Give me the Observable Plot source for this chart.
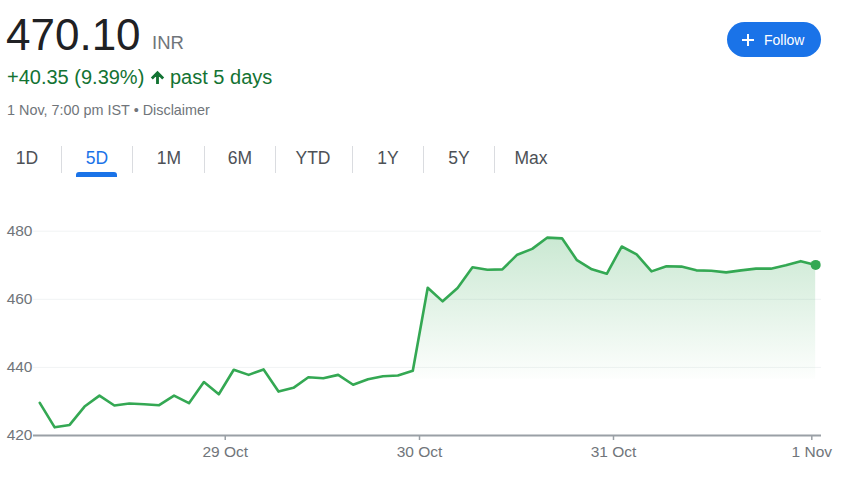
<!DOCTYPE html>
<html>
<head>
<meta charset="utf-8">
<script src="https://cdn.jsdelivr.net/npm/d3@7"></script>
<script src="https://cdn.jsdelivr.net/npm/@observablehq/plot@0.6"></script>
<style>
  html, body { margin: 0; padding: 0; }
  body { width: 860px; height: 481px; overflow: hidden; background: #fff; position: relative;
         font-family: Arial, "Liberation Sans", sans-serif; }
  .abs { position: absolute; white-space: nowrap; line-height: 1; }
  .tab { position: absolute; top: 150px; width: 70px; text-align: center; font-size: 17.5px; color: #4d5156; line-height: 1; }
  .sep { position: absolute; top: 146px; width: 1px; height: 27px; background: #dadce0; }
  #chart { position: absolute; left: 0; top: 195px; }
</style>
</head>
<body>
<div class="abs" style="left:6px;top:12.5px;font-size:44px;color:#202124;">470.10</div>
<div class="abs" style="left:152px;top:33.5px;font-size:18.5px;color:#70757a;">INR</div>

<div class="abs" style="left:7px;top:66.5px;font-size:20px;color:#137333;">+40.35 (9.39%)</div>
<svg class="abs" style="left:149px;top:69px;" width="17" height="17" viewBox="0 0 24 24">
  <path d="M4 12l1.41 1.41L11 7.83V20h2V7.83l5.58 5.59L20 12l-8-8-8 8z" fill="#137333" stroke="#137333" stroke-width="2"/>
</svg>
<div class="abs" style="left:170px;top:66.5px;font-size:20px;color:#137333;">past 5 days</div>

<div class="abs" style="left:7px;top:103px;font-size:14.4px;color:#70757a;">1 Nov, 7:00 pm IST • Disclaimer</div>

<div id="tabs"></div>

<div class="abs" style="left:727px;top:22px;width:94px;height:35px;border-radius:18px;background:#1a73e8;"></div>
<svg class="abs" style="left:741px;top:33px;" width="14" height="14" viewBox="0 0 14 14">
  <path d="M7 1V13M1 7H13" stroke="#fff" stroke-width="2"/>
</svg>
<div class="abs" style="left:764px;top:33px;font-size:14px;color:#fff;">Follow</div>

<div id="chart"></div>

<script>
// ---- header tabs ----
const tabLabels = ["1D", "5D", "1M", "6M", "YTD", "1Y", "5Y", "Max"];
const tabCenters = [27, 97, 169, 240, 313, 388, 459, 531];
const tabSeparators = [61, 132, 204, 275, 352, 423, 494];
const activeTab = "5D";

// ---- chart data (price, INR; one point per interval, 28 Oct – 1 Nov) ----
const prices = [
  429.6, 422.4, 423.1, 428.5, 431.7, 428.8, 429.4, 429.2, 428.9, 431.7, 429.5, 435.7, 432.1,
  439.3, 437.8, 439.4, 432.9, 434.0, 437.1, 436.8, 437.8, 434.9, 436.5, 437.4, 437.6, 439.0,
  463.4, 459.4, 463.3, 469.4, 468.7, 468.8, 473.1, 474.8, 478.1, 477.9, 471.5, 468.8, 467.5,
  475.5, 473.2, 468.2, 469.7, 469.6, 468.5, 468.4, 467.9, 468.5, 469.0, 469.0, 470.0, 471.2,
  470.10
];
const yTicks = [420, 440, 460, 480];
const dayLabels = ["29 Oct", "30 Oct", "31 Oct", "1 Nov"];
const dayTickPositions = [12.43, 25.45, 38.45, 51.74];
const fillStartIndex = 25;
const fillBaseline = 436.5;

// tabs
const tabsEl = document.getElementById("tabs");
tabLabels.forEach((t, i) => {
  const d = document.createElement("div");
  d.className = "tab";
  d.style.left = (tabCenters[i] - 35) + "px";
  d.textContent = t;
  if (t === activeTab) d.style.color = "#1a73e8";
  tabsEl.appendChild(d);
});
tabSeparators.forEach(x => {
  const s = document.createElement("div");
  s.className = "sep";
  s.style.left = x + "px";
  tabsEl.appendChild(s);
});
const ai = tabLabels.indexOf(activeTab);
const ul = document.createElement("div");
ul.style.cssText = `position:absolute;left:${tabCenters[ai] - 21}px;top:172px;width:41px;height:5px;background:#1a73e8;border-radius:3px 3px 0 0;`;
tabsEl.appendChild(ul);

// chart
const data = prices.map((v, i) => ({i, v}));
const fillData = data.filter(d => d.i >= fillStartIndex);
const last = data[data.length - 1];
const labelByPos = new Map(dayTickPositions.map((p, k) => [p, dayLabels[k]]));

const chart = Plot.plot({
  width: 860,
  height: 286,
  marginLeft: 33,
  marginRight: 39,
  marginTop: 35.7,
  marginBottom: 46,
  style: {fontFamily: "Arial, 'Liberation Sans', sans-serif", fontSize: "15.5px", color: "#70757a", background: "transparent", overflow: "visible"},
  x: {type: "linear", domain: [-0.42, 52.39], axis: null},
  y: {domain: [420, 480], axis: null},
  marks: [
    Plot.ruleY(yTicks.slice(1), {stroke: "#f1f3f4", strokeWidth: 1}),
    Plot.areaY(fillData, {x: "i", y1: fillBaseline, y2: "v", fill: "url(#areaGrad)"}),
    Plot.line(data, {x: "i", y: "v", stroke: "#34a853", strokeWidth: 2.6, strokeLinejoin: "round"}),
    Plot.dot([last], {x: "i", y: "v", r: 5, fill: "#34a853"}),
    Plot.ruleY([420], {stroke: "#9aa0a6", strokeWidth: 2}),
    Plot.axisY({ticks: yTicks, label: null, tickSize: 0, tickPadding: 1, fill: "#70757a", tickFormat: d => String(d)}),
    Plot.axisX({ticks: dayTickPositions, label: null, tickSize: 5, tickPadding: 5, stroke: "#9aa0a6", strokeWidth: 1.5, fill: "#70757a", tickFormat: d => labelByPos.get(d)})
  ]
});

const defs = document.createElementNS("http://www.w3.org/2000/svg", "defs");
defs.innerHTML = '<linearGradient id="areaGrad" x1="0" y1="0" x2="0" y2="1">' +
  '<stop offset="0" stop-color="#34a853" stop-opacity="0.26"/>' +
  '<stop offset="1" stop-color="#34a853" stop-opacity="0.01"/></linearGradient>';
chart.prepend(defs);
document.getElementById("chart").appendChild(chart);
</script>
</body>
</html>
